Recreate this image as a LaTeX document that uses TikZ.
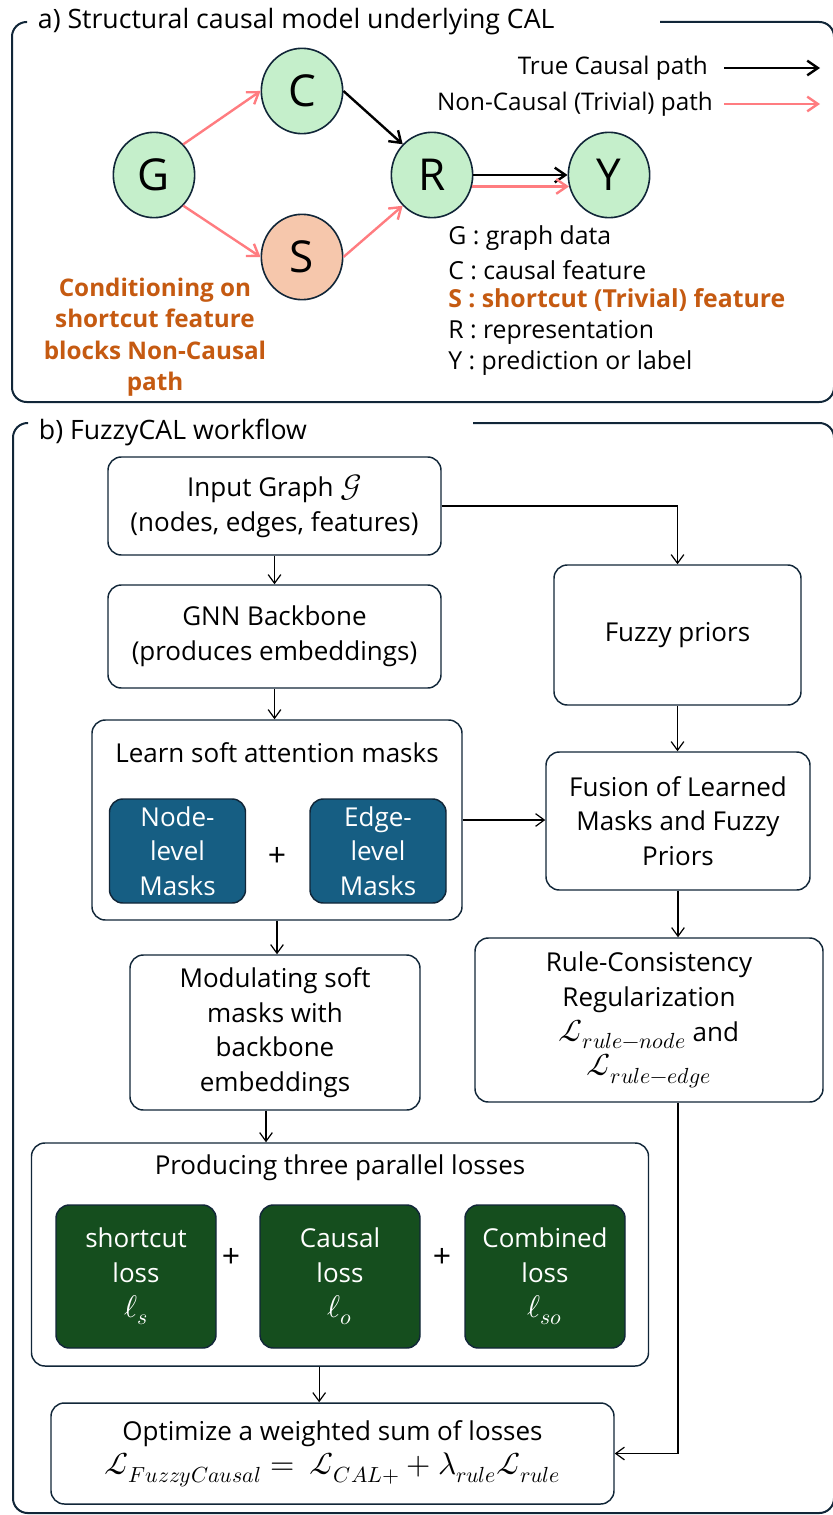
\documentclass[tikz,border=0pt]{standalone}
\usepackage{fontspec}
\usepackage{unicode-math}
\setmainfont{Open Sans}
\setmathfont{Latin Modern Math}[Scale=1.2]
\usetikzlibrary{shapes,arrows,arrows.meta,positioning,fit,backgrounds}

\definecolor{Frame}{RGB}{17,38,56}
\definecolor{VarGreen}{RGB}{197,239,203}
\definecolor{ShortFill}{RGB}{246,199,172}
\definecolor{Pink}{RGB}{255,124,128}
\definecolor{Orange}{RGB}{197,90,17}
\definecolor{MaskBlue}{RGB}{22,94,131}
\definecolor{LossGreen}{RGB}{21,78,30}

\begin{document}
\begin{tikzpicture}[x=0.75pt,y=-0.75pt]
	\tikzstyle{Panel}	= [draw=Frame, line width=1.5pt, rounded corners=11pt]
	\tikzstyle{Title}	= [fill=white, inner sep=2pt, anchor=west, font=\fontsize{20}{24}\selectfont]
	\tikzstyle{Var}		= [ellipse, draw=Frame, line width=1.2pt, fill=VarGreen, minimum width=61pt, minimum height=64pt, inner sep=0pt, font=\fontsize{33}{35}\selectfont]
	\tikzstyle{Causal}	= [-{Straight Barb[length=8pt,width=11pt]}, black, line width=1.8pt]
	\tikzstyle{Trivial}	= [-{Straight Barb[length=8pt,width=11pt]}, Pink, line width=1.8pt]
	\tikzstyle{Key}		= [anchor=west, inner sep=0pt, font=\fontsize{18.6}{20}\selectfont]
	\tikzstyle{Box}		= [draw=Frame, line width=1.1pt, rounded corners=10pt, fill=white, align=center, inner sep=2pt, font=\fontsize{19.5}{26}\selectfont]
	\tikzstyle{MaskBox}	= [Box, fill=MaskBlue, text=white]
	\tikzstyle{LossBox}	= [Box, fill=LossGreen, text=white]
	\tikzstyle{Flow}	= [-{Straight Barb[length=6.5pt,width=9.5pt]}, line width=0.9pt]
	\tikzstyle{Plus}	= [font=\fontsize{24}{26}\selectfont]

	\useasboundingbox (0,0) rectangle (832,1515);

	% a) structural causal model
	\draw [Panel] (27,22) -- (12,22) -- (12,402) -- (834,402) -- (834,22) -- (660,22);
	\node (titleA) at (35,22) [Title] {a) Structural causal model underlying CAL};

	\node (G) at (154,175) [Var] {G};
	\node (C) at (302,91) [Var] {C};
	\node (S) at (302,257) [Var, fill=ShortFill] {S};
	\node (R) at (432,175) [Var] {R};
	\node (Y) at (609,175) [Var] {Y};

	\draw (G.north east) to (C.west) [Trivial];
	\draw (G.south east) to (S.west) [Trivial];
	\draw (S.east) to (R.south west) [Trivial];
	\draw (C.east) to (R.north west) [Causal];
	\draw (R.east) to (Y.west) [Causal];
	\draw (R.-16) to (Y.196) [Trivial];

	\node (tcp) at (708,68) [Key, anchor=east, font=\fontsize{18.2}{20}\selectfont] {True Causal path};
	\node (ncp) at (713,104) [Key, anchor=east, font=\fontsize{18.2}{20}\selectfont] {Non-Causal (Trivial) path};
	\coordinate (tcpA) at (724,68);
	\coordinate (tcpB) at (820,68);
	\coordinate (ncpA) at (724,104);
	\coordinate (ncpB) at (820,104);
	\draw (tcpA) to (tcpB) [Causal];
	\draw (ncpA) to (ncpB) [Trivial];

	\node (kG) at (448,238) [Key] {G : graph data};
	\node (kC) at (448,270) [Key] {C : causal feature};
	\node (kS) at (448,300) [Key, text=Orange] {\bfseries S : shortcut (Trivial) feature};
	\node (kR) at (448,332) [Key] {R : representation};
	\node (kY) at (448,363) [Key] {Y : prediction or label};

	\node (note) at (155,337) [align=center, text=Orange, font=\bfseries\fontsize{18.2}{23.6}\selectfont] {Conditioning on\\shortcut feature\\blocks Non-Causal\\path};

	% b) FuzzyCAL workflow
	\draw [Panel] (28,423) -- (13,423) -- (13,1513) -- (834,1513) -- (834,423) -- (473,423);
	\node (titleB) at (36,433) [Title] {b) FuzzyCAL workflow};

	\node (input) at (274.5,506) [Box, minimum width=249.75pt, minimum height=73.5pt] {Input Graph $\mathcal{G}$\\(nodes, edges, features)};
	\node (gnn) at (274.5,636.5) [Box, minimum width=249.75pt, minimum height=77.25pt] {GNN Backbone\\(produces embeddings)};
	\node (fuzzy) at (677.5,635) [Box, minimum width=185.25pt, minimum height=105pt] {Fuzzy priors};

	\node (learn) at (277,820) [Box, minimum width=277.5pt, minimum height=150pt] {};
	\node (learnT) at (277,753) [Box, draw=none] {Learn soft attention masks};
	\node (nodeM) at (177.5,851) [MaskBox, minimum width=102pt, minimum height=78pt] {Node-\\level\\Masks};
	\node (edgeM) at (378,851) [MaskBox, minimum width=102pt, minimum height=78pt] {Edge-\\level\\Masks};
	\node (plusM) at (277,857) [Plus] {+};

	\node (fusion) at (678,821) [Box, minimum width=198pt, minimum height=103.5pt] {Fusion of Learned\\Masks and Fuzzy\\Priors};
	\node (modul) at (275,1032.5) [Box, minimum width=217.5pt, minimum height=116.25pt] {Modulating soft\\masks with\\backbone\\embeddings};
	\node (rule) at (649,1020) [Box, minimum width=261pt, minimum height=123pt] {Rule-Consistency\\Regularization\\$\mathcal{L}_{rule-node}$ and\\$\mathcal{L}_{rule-edge}$};

	\node (prod) at (340,1254.5) [Box, minimum width=462.75pt, minimum height=167.25pt] {};
	\node (prodT) at (340,1168) [Box, draw=none] {Producing three parallel losses};
	\node (lossS) at (136,1276.5) [LossBox, minimum width=120pt, minimum height=107.25pt] {shortcut\\loss\\$\ell_s$};
	\node (lossO) at (340,1276.5) [LossBox, minimum width=120pt, minimum height=107.25pt] {Causal\\loss\\$\ell_o$};
	\node (lossSO) at (545,1276.5) [LossBox, minimum width=120pt, minimum height=107.25pt] {Combined\\loss\\$\ell_{so}$};
	\node (plusA) at (231,1258) [Plus] {+};
	\node (plusB) at (442,1258) [Plus] {+};

	\node (opt) at (332.5,1453.5) [Box, minimum width=422.25pt, minimum height=75.75pt] {Optimize a weighted sum of losses\\$\mathcal{L}_{FuzzyCausal} =\ \mathcal{L}_{CAL+} + \lambda_{rule}\mathcal{L}_{rule}$};

	\draw (input) to (gnn) [Flow];
	\draw (input.east) -| (fuzzy.north) [Flow];
	\draw (gnn.south) to (gnn.south |- learn.north) [Flow];
	\draw (learn.east) to (learn.east -| fusion.west) [Flow];
	\draw (fuzzy.south) to (fuzzy.south |- fusion.north) [Flow];
	\draw (learn.south) to (learn.south |- modul.north) [Flow];
	\draw (fusion.south) to (fusion.south |- rule.north) [Flow];
	\draw ([xshift=-6.75pt]modul.south) to ([xshift=-6.75pt]modul.south |- prod.north) [Flow];
	\draw ([xshift=-10pt]opt.north |- prod.south) to ([xshift=-10pt]opt.north) [Flow];
	\draw (rule.south -| fusion.south) |- (opt.east) [Flow];
\end{tikzpicture}
\end{document}
